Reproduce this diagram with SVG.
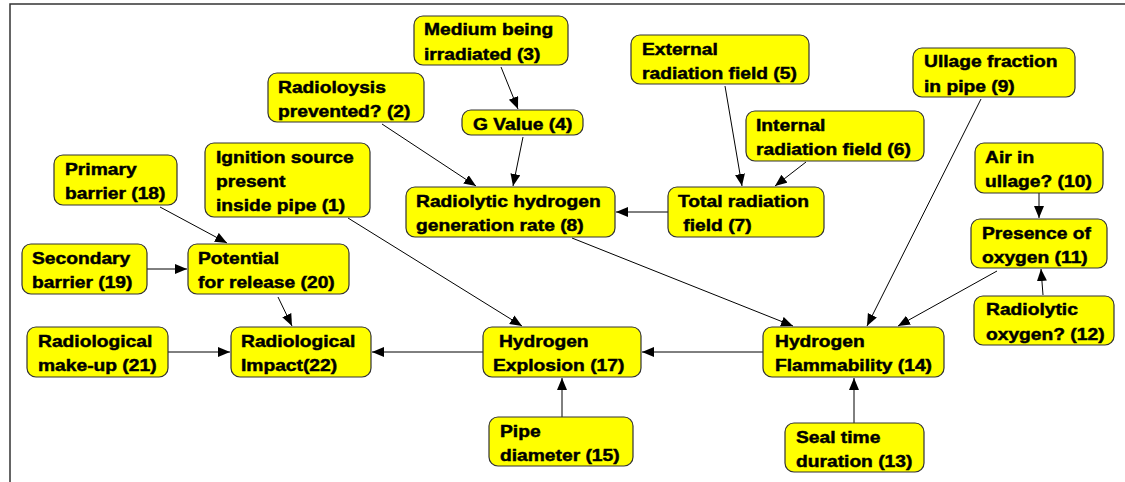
<svg xmlns="http://www.w3.org/2000/svg" width="1125" height="482" viewBox="0 0 1125 482">
  <style>
    .box { fill: #ffff00; stroke: #333; stroke-width: 1.2; }
    .t { font-family: "Liberation Sans", Arial, sans-serif; font-weight: bold; font-size: 16.3px; fill: #000; stroke: #000; stroke-width: 0.45; }
    .edge { stroke: #000; stroke-width: 1; fill: none; marker-end: url(#arrow); }
    .frame { stroke: #333; stroke-width: 1.5; fill: none; }
  </style>
  <defs>
    <marker id="arrow" markerUnits="userSpaceOnUse" markerWidth="13" markerHeight="11" refX="12" refY="5" orient="auto">
      <path d="M0,0 L12,5 L0,10 z" fill="#000"/>
    </marker>
  </defs>
  <rect width="1125" height="482" fill="#fff"/>
  <!-- page frame: top and left edges only -->
  <path class="frame" d="M10,482 L10,4 L1125,4"/>

  <g id="connectors">
    <line class="edge" x1="501" y1="67" x2="518" y2="109"/>
    <line class="edge" x1="523" y1="137" x2="513" y2="186"/>
    <line class="edge" x1="382" y1="124" x2="476" y2="186"/>
    <line class="edge" x1="725" y1="86" x2="742" y2="186"/>
    <line class="edge" x1="806" y1="162" x2="775" y2="186"/>
    <line class="edge" x1="668" y1="212" x2="616" y2="212"/>
    <line class="edge" x1="572" y1="238" x2="793" y2="326"/>
    <line class="edge" x1="981" y1="99" x2="867" y2="326"/>
    <line class="edge" x1="1039" y1="193" x2="1039" y2="218"/>
    <line class="edge" x1="1043" y1="295" x2="1041" y2="269"/>
    <line class="edge" x1="997" y1="271" x2="898" y2="326"/>
    <line class="edge" x1="854" y1="423" x2="854" y2="378"/>
    <line class="edge" x1="763" y1="352" x2="642" y2="352"/>
    <line class="edge" x1="562" y1="417" x2="562" y2="378"/>
    <line class="edge" x1="348" y1="218" x2="522" y2="326"/>
    <line class="edge" x1="483" y1="352" x2="372" y2="352"/>
    <line class="edge" x1="160" y1="207" x2="227" y2="243"/>
    <line class="edge" x1="147" y1="269" x2="187" y2="269"/>
    <line class="edge" x1="278" y1="297" x2="292" y2="326"/>
    <line class="edge" x1="168" y1="352" x2="230" y2="352"/>
  </g>

  <g id="n1">
    <rect class="box" x="205" y="143" width="165" height="74" rx="9"/>
    <text class="t" transform="translate(216,163) scale(1.18 1)"><tspan x="0" y="0">Ignition source</tspan><tspan x="0" y="24">present</tspan><tspan x="0" y="48">inside pipe (1)</tspan></text>
  </g>
  <g id="n2">
    <rect class="box" x="268" y="73" width="156" height="49" rx="9"/>
    <text class="t" transform="translate(278,93) scale(1.18 1)"><tspan x="0" y="0">Radioloysis</tspan><tspan x="0" y="24">prevented? (2)</tspan></text>
  </g>
  <g id="n3">
    <rect class="box" x="414" y="16" width="154" height="49" rx="9"/>
    <text class="t" transform="translate(424,35) scale(1.18 1)"><tspan x="0" y="0">Medium being</tspan><tspan x="0" y="25">irradiated (3)</tspan></text>
  </g>
  <g id="n4">
    <rect class="box" x="462" y="110" width="121" height="25" rx="9"/>
    <text class="t" transform="translate(473,130) scale(1.18 1)">G Value (4)</text>
  </g>
  <g id="n5">
    <rect class="box" x="631" y="35" width="178" height="49" rx="9"/>
    <text class="t" transform="translate(642,55) scale(1.18 1)"><tspan x="0" y="0">External</tspan><tspan x="0" y="24">radiation field (5)</tspan></text>
  </g>
  <g id="n6">
    <rect class="box" x="746" y="111" width="178" height="50" rx="9"/>
    <text class="t" transform="translate(756,131) scale(1.18 1)"><tspan x="0" y="0">Internal</tspan><tspan x="0" y="24">radiation field (6)</tspan></text>
  </g>
  <g id="n7">
    <rect class="box" x="668" y="187" width="156" height="50" rx="9"/>
    <text class="t" transform="translate(678,207) scale(1.18 1)"><tspan x="0" y="0">Total radiation</tspan><tspan x="4.5" y="24">field (7)</tspan></text>
  </g>
  <g id="n8">
    <rect class="box" x="406" y="187" width="209" height="50" rx="9"/>
    <text class="t" transform="translate(416,207) scale(1.18 1)"><tspan x="0" y="0">Radiolytic hydrogen</tspan><tspan x="0" y="24">generation rate (8)</tspan></text>
  </g>
  <g id="n9">
    <rect class="box" x="913" y="48" width="162" height="49" rx="9"/>
    <text class="t" transform="translate(924,67) scale(1.18 1)"><tspan x="0" y="0">Ullage fraction</tspan><tspan x="0" y="25">in pipe (9)</tspan></text>
  </g>
  <g id="n10">
    <rect class="box" x="975" y="143" width="128" height="50" rx="9"/>
    <text class="t" transform="translate(985,163) scale(1.18 1)"><tspan x="0" y="0">Air in</tspan><tspan x="0" y="24">ullage? (10)</tspan></text>
  </g>
  <g id="n11">
    <rect class="box" x="971" y="219" width="136" height="49" rx="9"/>
    <text class="t" transform="translate(982,239) scale(1.18 1)"><tspan x="0" y="0">Presence of</tspan><tspan x="0" y="24">oxygen (11)</tspan></text>
  </g>
  <g id="n12">
    <rect class="box" x="974" y="296" width="140" height="49" rx="9"/>
    <text class="t" transform="translate(986,315) scale(1.18 1)"><tspan x="0" y="0">Radiolytic</tspan><tspan x="0" y="25">oxygen? (12)</tspan></text>
  </g>
  <g id="n13">
    <rect class="box" x="785" y="423" width="139" height="49" rx="9"/>
    <text class="t" transform="translate(796,443) scale(1.18 1)"><tspan x="0" y="0">Seal time</tspan><tspan x="0" y="24">duration (13)</tspan></text>
  </g>
  <g id="n14">
    <rect class="box" x="763" y="327" width="181" height="50" rx="9"/>
    <text class="t" transform="translate(775,347) scale(1.18 1)"><tspan x="0" y="0">Hydrogen</tspan><tspan x="0" y="24">Flammability (14)</tspan></text>
  </g>
  <g id="n15">
    <rect class="box" x="489" y="417" width="144" height="49" rx="9"/>
    <text class="t" transform="translate(500,437) scale(1.18 1)"><tspan x="0" y="0">Pipe</tspan><tspan x="0" y="24">diameter (15)</tspan></text>
  </g>
  <g id="n17">
    <rect class="box" x="483" y="327" width="158" height="50" rx="9"/>
    <text class="t" transform="translate(493,347) scale(1.18 1)"><tspan x="5" y="0">Hydrogen</tspan><tspan x="0" y="24">Explosion (17)</tspan></text>
  </g>
  <g id="n18">
    <rect class="box" x="54" y="155" width="123" height="50" rx="9"/>
    <text class="t" transform="translate(65,175) scale(1.18 1)"><tspan x="0" y="0">Primary</tspan><tspan x="0" y="24">barrier (18)</tspan></text>
  </g>
  <g id="n19">
    <rect class="box" x="22" y="244" width="125" height="50" rx="9"/>
    <text class="t" transform="translate(32,264) scale(1.18 1)"><tspan x="0" y="0">Secondary</tspan><tspan x="0" y="24">barrier (19)</tspan></text>
  </g>
  <g id="n20">
    <rect class="box" x="188" y="244" width="161" height="50" rx="9"/>
    <text class="t" transform="translate(198,264) scale(1.18 1)"><tspan x="0" y="0">Potential</tspan><tspan x="0" y="24">for release (20)</tspan></text>
  </g>
  <g id="n21">
    <rect class="box" x="27" y="327" width="141" height="50" rx="9"/>
    <text class="t" transform="translate(38,347) scale(1.18 1)"><tspan x="0" y="0">Radiological</tspan><tspan x="0" y="24">make-up (21)</tspan></text>
  </g>
  <g id="n22">
    <rect class="box" x="231" y="327" width="140" height="50" rx="9"/>
    <text class="t" transform="translate(241,347) scale(1.18 1)"><tspan x="0" y="0">Radiological</tspan><tspan x="0" y="24">Impact(22)</tspan></text>
  </g>
</svg>
